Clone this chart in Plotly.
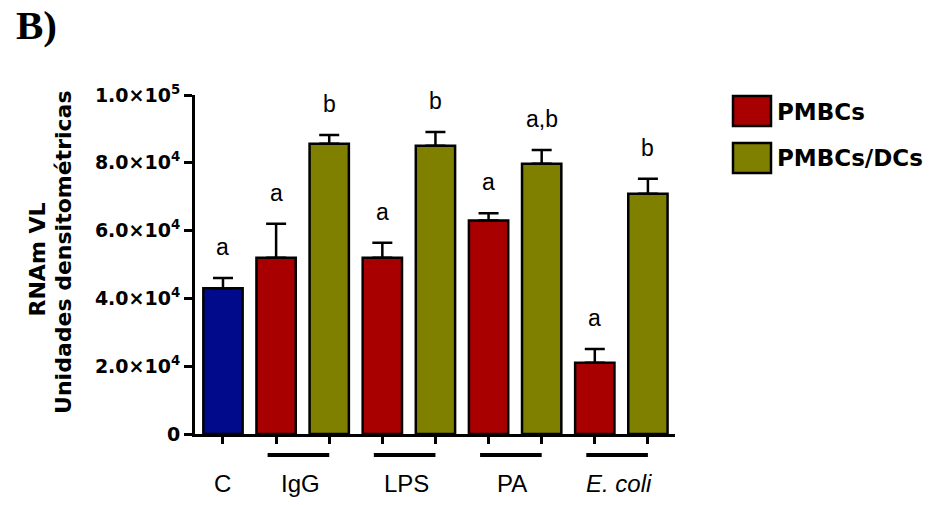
import plotly.graph_objects as go

# ---------------- data ----------------
groups = ["C", "IgG", "LPS", "PA", "<i>E. coli</i>"]
control_value = [43000]
control_err = [3000]
control_letter = ["a"]
pmbcs_values = [52000, 52000, 63000, 21000]
pmbcs_err = [10000, 4400, 2100, 4100]
pmbcs_letters = ["a", "a", "a", "a"]
dcs_values = [85600, 85000, 79700, 70900]
dcs_err = [2600, 4100, 4100, 4400]
dcs_letters = ["b", "b", "a,b", "b"]
y_tick_vals = [0, 20000, 40000, 60000, 80000, 100000]
y_tick_text = ["0", "2.0×10<sup>4</sup>", "4.0×10<sup>4</sup>", "6.0×10<sup>4</sup>",
               "8.0×10<sup>4</sup>", "1.0×10<sup>5</sup>"]
series_names = ["PMBCs", "PMBCs/DCs"]

# ---------------- styles ----------------
BLUE = "#000a8a"
RED = "#a80000"
OLIVE = "#808000"
BAR_W = 0.74

x_ctrl = [0]
x_pm = [1 + 2 * i for i in range(len(pmbcs_values))]
x_dc = [2 + 2 * i for i in range(len(dcs_values))]


def err(arr):
    return dict(type="data", array=arr, arrayminus=[0] * len(arr), symmetric=False,
                color="black", thickness=2.5, width=10)


fig = go.Figure()
fig.add_trace(go.Bar(x=x_ctrl, y=control_value, width=BAR_W, marker=dict(color=BLUE, line=dict(color="black", width=2.5)),
                     error_y=err(control_err), showlegend=False))
fig.add_trace(go.Bar(x=x_pm, y=pmbcs_values, width=BAR_W, marker=dict(color=RED, line=dict(color="black", width=2.5)),
                     error_y=err(pmbcs_err), name=series_names[0], showlegend=False))
fig.add_trace(go.Bar(x=x_dc, y=dcs_values, width=BAR_W, marker=dict(color=OLIVE, line=dict(color="black", width=2.5)),
                     error_y=err(dcs_err), name=series_names[1], showlegend=False))

annotations = []
letter_font = dict(family="Liberation Sans, Arial, sans-serif", size=23, color="black")
for xs, vals, errs, letters in [(x_ctrl, control_value, control_err, control_letter),
                                (x_pm, pmbcs_values, pmbcs_err, pmbcs_letters),
                                (x_dc, dcs_values, dcs_err, dcs_letters)]:
    for x, v, e, l in zip(xs, vals, errs, letters):
        annotations.append(dict(x=x, y=v + e, xref="x", yref="y", text=l, showarrow=False,
                                yanchor="bottom", yshift=16, font=letter_font))

# category labels
cat_font = dict(family="Liberation Sans, Arial, sans-serif", size=24, color="black")
cat_x = [0] + [(a + b) / 2 - 0.05 for a, b in zip(x_pm, x_dc)]
for x, g in zip(cat_x, groups):
    annotations.append(dict(x=x, y=-0.145, xref="x", yref="paper", text=g, showarrow=False,
                            xanchor="center", yanchor="middle", font=cat_font))

shapes = []
for a, b in zip(x_pm, x_dc):
    shapes.append(dict(type="line", xref="x", yref="paper", x0=a - 0.16, x1=b + 0.0,
                       y0=-0.062, y1=-0.062, line=dict(color="black", width=4)))

# y-axis title (two lines)
ttl_font = dict(family="DejaVu Sans, Arial, sans-serif", size=22, color="black")
annotations.append(dict(x=-0.329, y=0.515, xref="paper", yref="paper", text="<b>RNAm VL</b>",
                        textangle=-90, showarrow=False, xanchor="center", yanchor="middle", font=ttl_font))
annotations.append(dict(x=-0.273, y=0.537, xref="paper", yref="paper", text="<b>Unidades densitométricas</b>",
                        textangle=-90, showarrow=False, xanchor="center", yanchor="middle", font=ttl_font))

# panel label
annotations.append(dict(x=(14 - 195) / 480, y=(434 - 25) / 339, xref="paper", yref="paper", text="<b>B)</b>",
                        showarrow=False, xanchor="left", yanchor="middle",
                        font=dict(family="Liberation Serif, Times New Roman, serif", size=41, color="black")))

# manual legend
leg_font = dict(family="DejaVu Sans, Arial, sans-serif", size=23, color="black")
for (c, name, ytop, ybot, ytxt) in [(RED, series_names[0], 96, 126, 112), (OLIVE, series_names[1], 143, 173, 158)]:
    shapes.append(dict(type="rect", xref="paper", yref="paper",
                       x0=(733 - 195) / 480, x1=(771 - 195) / 480,
                       y0=(434 - ybot) / 339, y1=(434 - ytop) / 339,
                       fillcolor=c, line=dict(color="black", width=2.5)))
    annotations.append(dict(x=(775 - 195) / 480, y=(434 - ytxt) / 339, xref="paper", yref="paper",
                            text=f"<b>{name}</b>", showarrow=False, xanchor="left", yanchor="middle",
                            font=leg_font))

fig.update_layout(
    width=932, height=505,
    margin=dict(l=195, r=257, t=95, b=71, pad=0),
    paper_bgcolor="white", plot_bgcolor="white",
    barmode="overlay",
    showlegend=False,
    annotations=annotations,
    shapes=shapes,
    xaxis=dict(range=[-0.527, 8.51], tickvals=x_ctrl + sorted(x_pm + x_dc), showticklabels=False,
               showline=True, linecolor="black", linewidth=3, ticks="outside", ticklen=7,
               tickwidth=2.5, tickcolor="black", showgrid=False, zeroline=False),
    yaxis=dict(range=[0, 100000], tickvals=y_tick_vals, ticktext=[f"<b>{t}</b>" for t in y_tick_text],
               showline=True, linecolor="black", linewidth=3, ticks="outside", ticklen=8,
               tickwidth=2.5, tickcolor="black", showgrid=False, zeroline=False,
               tickfont=dict(family="DejaVu Sans, Arial, sans-serif", size=19, color="black")),
)

fig.write_html("out.html")
